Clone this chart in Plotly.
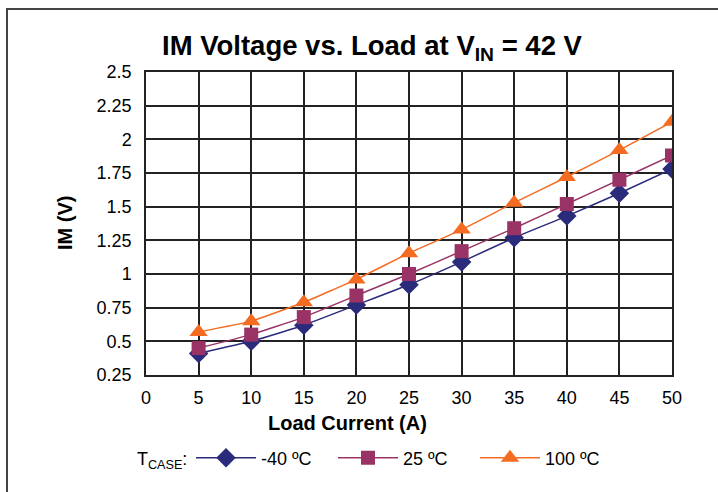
import plotly.graph_objects as go

load_current = [5, 10, 15, 20, 25, 30, 35, 40, 45, 50]
im_m40 = [0.41, 0.50, 0.62, 0.77, 0.92, 1.09, 1.27, 1.43, 1.60, 1.78]
im_25 = [0.45, 0.55, 0.68, 0.84, 1.00, 1.17, 1.34, 1.52, 1.70, 1.88]
im_100 = [0.57, 0.65, 0.79, 0.96, 1.155, 1.33, 1.53, 1.72, 1.92, 2.13]
series_names = ["-40 ºC", "25 ºC", "100 ºC"]
x_ticks = [0, 5, 10, 15, 20, 25, 30, 35, 40, 45, 50]
y_ticks = [0.25, 0.5, 0.75, 1, 1.25, 1.5, 1.75, 2, 2.25, 2.5]
y_tick_text = ["0.25", "0.5", "0.75", "1", "1.25", "1.5", "1.75", "2", "2.25", "2.5"]

colors = ["#2B2B7B", "#993366", "#F36C21"]
symbols = ["diamond", "square", "triangle-up"]
sizes = [15, 14, 16]

W, H = 718, 492
L, R, T, B = 146, 672, 72, 375
pw, ph = R - L, B - T

fig = go.Figure()
for name, vals, c, s, sz in zip(series_names, [im_m40, im_25, im_100], colors, symbols, sizes):
    fig.add_trace(go.Scatter(
        x=load_current, y=vals, name=name, mode="lines+markers",
        line=dict(color=c, width=1.5, shape="spline", smoothing=0.4),
        marker=dict(symbol=s, size=sz, color=c),
    ))

font_family = "Liberation Sans, Arial, sans-serif"
fig.update_layout(
    width=W, height=H,
    margin=dict(l=L, r=W - R, t=T, b=H - B, pad=0),
    paper_bgcolor="white", plot_bgcolor="white",
    font=dict(family=font_family, size=18, color="black"),
    showlegend=True,
    legend=dict(
        orientation="h", x=(191 - L) / pw, y=(B - 458) / ph, yanchor="middle", xanchor="left",
        font=dict(size=18), itemwidth=60, tracegroupgap=0,
        entrywidth=67, entrywidthmode="pixels",
        bgcolor="rgba(0,0,0,0)",
    ),
    xaxis=dict(
        range=[0, 50], tickvals=x_ticks, showgrid=True, gridcolor="#222", gridwidth=1.5,
        showline=True, linecolor="#222", linewidth=1.5, mirror=True, zeroline=False,
        ticks="", ticklabelstandoff=6, tickfont=dict(size=18),
    ),
    yaxis=dict(
        range=[0.25, 2.5], tickvals=y_ticks, ticktext=y_tick_text, showgrid=True,
        gridcolor="#222", gridwidth=1.5, showline=True, linecolor="#222", linewidth=1.5,
        mirror=True, zeroline=False, ticks="", ticklabelstandoff=9, tickfont=dict(size=18),
    ),
    annotations=[
        dict(text="<b>IM Voltage vs. Load at V<sub>IN</sub> = 42 V</b>", xref="paper", yref="paper",
             x=(372 - L) / pw, y=1 + (T - 48) / ph, xanchor="center", yanchor="middle",
             showarrow=False, font=dict(size=27.5)),
        dict(text="<b>Load Current (A)</b>", xref="paper", yref="paper",
             x=(347 - L) / pw, y=(B - 423) / ph, xanchor="center", yanchor="middle",
             showarrow=False, font=dict(size=20)),
        dict(text="<b>IM (V)</b>", xref="paper", yref="paper",
             x=(65 - L) / pw, y=(B - 223) / ph, xanchor="center", yanchor="middle",
             textangle=-90, showarrow=False, font=dict(size=20)),
        dict(text="T<sub>CASE</sub>:", xref="paper", yref="paper",
             x=(135 - L) / pw, y=(B - 460) / ph, xanchor="left", yanchor="middle",
             showarrow=False, font=dict(size=18)),
    ],
    shapes=[
        dict(type="rect", xref="paper", yref="paper",
             x0=(7 - L) / pw, x1=(W + 20 - L) / pw, y0=(B - (H + 20)) / ph, y1=1 + (T - 9) / ph,
             line=dict(color="#444", width=2), fillcolor="rgba(0,0,0,0)", layer="below"),
    ],
)

fig.write_html("out.html", config={"displayModeBar": False},
               post_script="document.body.style.margin='0';document.body.style.overflow='hidden';")
